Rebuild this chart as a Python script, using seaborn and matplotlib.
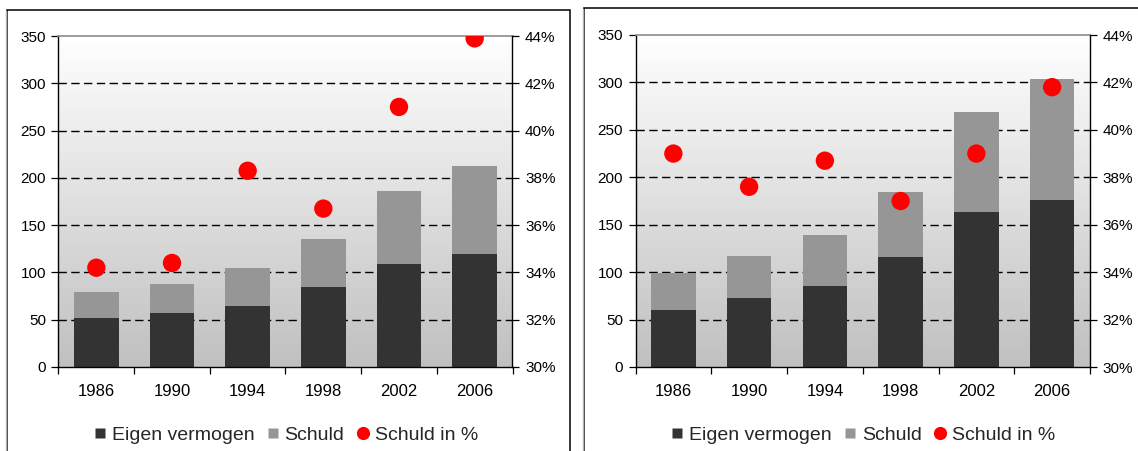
import numpy as np
import pandas as pd
import matplotlib
matplotlib.use("Agg")
import matplotlib.pyplot as plt
import seaborn as sns
from matplotlib.colors import LinearSegmentedColormap
from matplotlib.lines import Line2D
from matplotlib.patches import Rectangle
from matplotlib.ticker import FuncFormatter, MultipleLocator

# ---- data -------------------------------------------------------------
years = ["1986", "1990", "1994", "1998", "2002", "2006"]

left_eigen = [52, 57, 64, 85, 109, 119]
left_schuld = [27.5, 31, 41, 50.5, 77, 94]
left_pct = [34.2, 34.4, 38.3, 36.7, 41.0, 43.9]

right_eigen = [60, 73, 85.5, 116, 163.5, 176]
right_schuld = [39, 44, 53.5, 68.5, 105, 127.5]
right_pct = [39.0, 37.6, 38.7, 37.0, 39.0, 41.8]

y_ticks = [0, 50, 100, 150, 200, 250, 300, 350]
pct_ticks = [30, 32, 34, 36, 38, 40, 42, 44]

legend_labels = ["Eigen vermogen", "Schuld", "Schuld in %"]

# ---- style ------------------------------------------------------------
sns.set_theme(style="white")
plt.rcParams["font.family"] = ["Liberation Sans", "DejaVu Sans"]

DARK = "#333333"
LIGHT = "#969696"
RED = "#ff0000"

W, H = 1138, 451
fig = plt.figure(figsize=(W / 100, H / 100), dpi=100)
fig.patch.set_facecolor("white")

bg_cmap = LinearSegmentedColormap.from_list("bg", ["#c0c0c0", "#ffffff"])


def px_rect(x0, y0, x1, y1):
    """Figure-fraction rectangle [left, bottom, width, height] from pixel edges."""
    return [x0 / W, 1 - y1 / H, (x1 - x0) / W, (y1 - y0) / H]


def draw_panel(rect, eigen, schuld, pct):
    ax = fig.add_axes(rect)
    n = len(years)
    totals = [e + s for e, s in zip(eigen, schuld)]
    df = pd.DataFrame({"jaar": years, "eigen": eigen, "totaal": totals})

    # vertical grey gradient behind everything
    grad = np.linspace(0, 1, 256).reshape(-1, 1)
    ax.imshow(grad, extent=[0, 1, 0, 1], transform=ax.transAxes,
              aspect="auto", cmap=bg_cmap, origin="lower", zorder=0)

    # stacked bars: full height in light grey, own capital on top in dark
    sns.barplot(data=df, x="jaar", y="totaal", color=LIGHT, width=0.59,
                saturation=1, ax=ax, zorder=2, linewidth=0)
    sns.barplot(data=df, x="jaar", y="eigen", color=DARK, width=0.59,
                saturation=1, ax=ax, zorder=2, linewidth=0)

    ax.set_xlim(-0.5, n - 0.5)
    ax.set_ylim(0, 350)
    ax.set_yticks(y_ticks)
    ax.set_xlabel("")
    ax.set_ylabel("")

    # dashed horizontal gridlines behind the bars
    for v in y_ticks[1:-1]:
        ax.axhline(v, color="#000000", lw=1.0, ls=(0, (6, 3.2)), zorder=1)

    # category boundary ticks, labels centred between them
    ax.set_xticks(np.arange(-0.5, n, 1))
    ax.set_xticklabels([])
    ax.set_xticks(np.arange(n), minor=True)
    ax.set_xticklabels(years, minor=True)
    ax.tick_params(axis="x", which="major", direction="out", length=5,
                   width=0.9, color="black", bottom=True)
    ax.tick_params(axis="x", which="minor", length=0, pad=12,
                   labelsize=12, labelcolor="black", bottom=False)
    ax.tick_params(axis="y", direction="out", length=5, width=0.9,
                   color="black", left=True, labelsize=11, pad=4,
                   labelcolor="black")

    for side in ["left", "bottom"]:
        ax.spines[side].set_color("black")
        ax.spines[side].set_linewidth(1.0)
    ax.spines["top"].set_color("#8c8c8c")
    ax.spines["top"].set_linewidth(1.2)
    ax.spines["right"].set_visible(False)

    # debt share on the secondary axis
    ax2 = ax.twinx()
    sns.scatterplot(x=np.arange(n), y=pct, color=RED, s=175,
                    edgecolor="none", ax=ax2, zorder=5, legend=False)
    ax2.set_ylim(30, 44)
    ax2.yaxis.set_major_locator(MultipleLocator(2))
    ax2.yaxis.set_major_formatter(FuncFormatter(lambda v, _: f"{v:.0f}%"))
    ax2.set_xlim(-0.5, n - 0.5)
    ax2.tick_params(axis="y", direction="out", length=5, width=0.9,
                    color="black", right=True, labelsize=11, pad=4,
                    labelcolor="black")
    for side in ["left", "top", "bottom"]:
        ax2.spines[side].set_visible(False)
    ax2.spines["right"].set_color("black")
    ax2.spines["right"].set_linewidth(1.0)
    ax2.set_ylabel("")
    ax2.grid(False)
    ax.grid(False)

    handles = [
        Line2D([], [], ls="none", marker="s", markersize=7.5,
               markerfacecolor=DARK, markeredgecolor="none"),
        Line2D([], [], ls="none", marker="s", markersize=7.5,
               markerfacecolor=LIGHT, markeredgecolor="none"),
        Line2D([], [], ls="none", marker="o", markersize=9.5,
               markerfacecolor=RED, markeredgecolor="none"),
    ]
    ax.legend(handles, legend_labels, loc="center",
              bbox_to_anchor=(0.5, -0.205), ncol=3, frameon=False,
              fontsize=14, handlelength=0.7, handletextpad=0.25,
              columnspacing=0.6, borderaxespad=0)
    return ax, ax2


draw_panel(px_rect(58.5, 36, 512.5, 367), left_eigen, left_schuld, left_pct)
draw_panel(px_rect(635.5, 35, 1090, 367), right_eigen, right_schuld, right_pct)

# panel frames
for x0, y0, x1 in [(7, 10, 570), (584, 8, 1160)]:
    fig.add_artist(Rectangle((x0 / W, -0.1), (x1 - x0) / W, 1.1 - y0 / H,
                             transform=fig.transFigure, fill=False,
                             edgecolor="black", lw=1.1, zorder=10))
    fig.add_artist(Line2D([(x0 - 1.5) / W] * 2, [-0.1, 1 - (y0 + 1) / H],
                          transform=fig.transFigure, color="#b4b4b4",
                          lw=1.0, zorder=10))

fig.savefig("out.png", dpi=100, facecolor="white")
